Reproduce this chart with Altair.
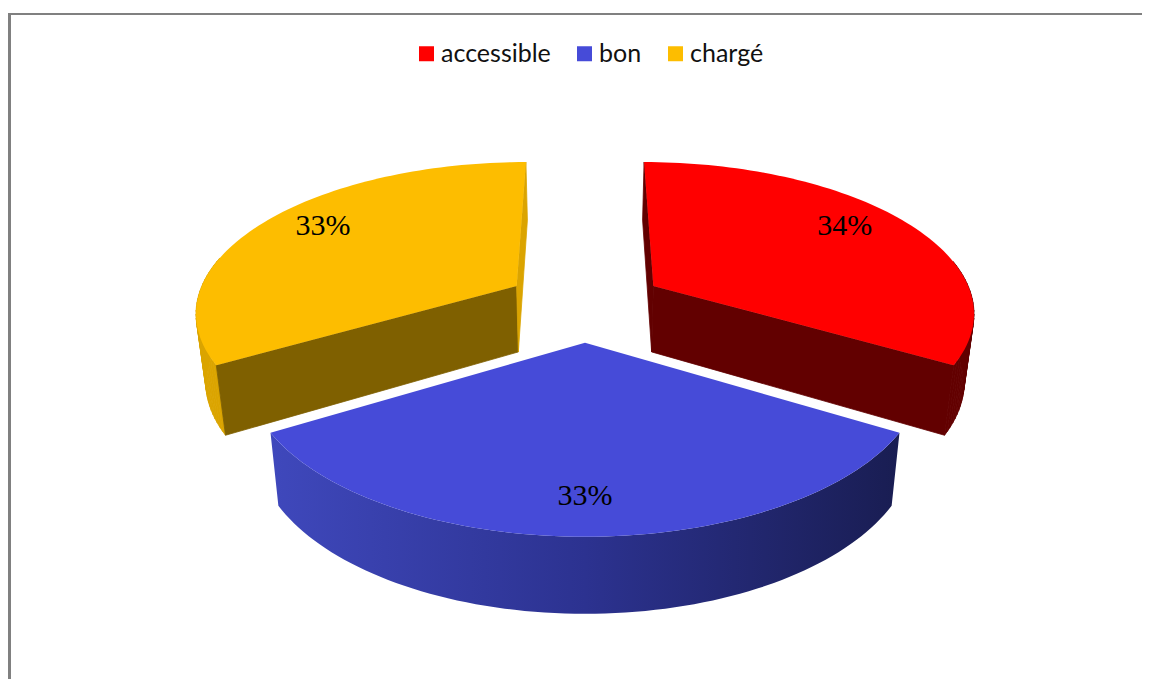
import math
import altair as alt

categories = ["accessible", "bon", "chargé"]
shares = [33.5, 33.0, 33.5]
labels = ["34%", "33%", "33%"]
top_colors = ["#ff0000", "#464bd8", "#fdbd00"]
cut_long = ["#620000", None, "#7f6000"]
cut_short = ["#620000", None, "#dba400"]
wall_colors = ["#620000", None, "#dba400"]
label_reach = [0.80, 0.82, 0.81]
label_turn = [-4, 0, 4]

PAGE = 8
CX, CY, R, TILT, PERSP, EXPLODE = 585, 304, 321, 149, 0.16, 0.25


def top_point(X, Y):
    s = 1 / (1 - PERSP * Y)
    return [CX + R * X * s - PAGE, CY + TILT * Y * s - PAGE]


def low_point(X, Y):
    x, y = top_point(X, Y)
    return [CX - PAGE + (x - CX + PAGE) * 0.975, y + 67 + 8 * Y]


def feature(ring, **props):
    return {"type": "Feature", "properties": props,
            "geometry": {"type": "Polygon", "coordinates": [ring + [ring[0]]]}}


tops, back_faces, front_wall, label_rows = [], [], [], []
start = 0.0
total = sum(shares)
for i, name in enumerate(categories):
    sweep = 360 * shares[i] / total
    mid = math.radians(start + sweep / 2)
    ox, oy = EXPLODE * math.sin(mid), -EXPLODE * math.cos(mid)
    angles = [math.radians(start + sweep * k / 80) for k in range(81)]
    arc = [(ox + math.sin(t), oy - math.cos(t)) for t in angles]
    apex = (ox, oy)
    top_arc = [top_point(*p) for p in arc]
    low_arc = [low_point(*p) for p in arc]
    if wall_colors[i]:
        for k in range(80):
            if math.cos(angles[k]) > 0.2:
                continue
            quad = [top_arc[k], top_arc[k + 1], low_arc[k + 1], low_arc[k]]
            back_faces.append(feature(quad, shade=wall_colors[i]))
        first_is_long = name == "chargé"
        for end, long_face in ((0, first_is_long), (-1, not first_is_long)):
            col = cut_long[i] if long_face else cut_short[i]
            ring = [top_point(*apex), top_arc[end], low_arc[end], low_point(*apex)]
            back_faces.append(feature(ring, shade=col))
    else:
        front_wall.append(feature(top_arc + low_arc[::-1], shade="gradient"))
    tops.append(feature([top_point(*apex)] + top_arc, name=name))
    a = mid + math.radians(label_turn[i])
    lx, ly = top_point(ox + label_reach[i] * math.sin(a), oy - label_reach[i] * math.cos(a))
    label_rows.append({"lon": lx, "lat": ly, "label": labels[i]})
    start += sweep

identity = dict(type="identity", scale=1, translate=[0, 0])

faces = alt.Chart(alt.Data(values=back_faces)).mark_geoshape(strokeWidth=0.8).encode(
    color=alt.Color("properties.shade:N", scale=None),
    stroke=alt.Stroke("properties.shade:N", scale=None),
).project(**identity)

blue_wall = alt.Chart(alt.Data(values=front_wall)).mark_geoshape(
    strokeWidth=0,
    fill=alt.LinearGradient(
        gradient="linear", x1=0, x2=1, y1=0, y2=0,
        stops=[alt.GradientStop(color="#3f48bc", offset=0),
               alt.GradientStop(color="#2c3290", offset=0.5),
               alt.GradientStop(color="#191d52", offset=1)],
    ),
).project(**identity)

top_faces = alt.Chart(alt.Data(values=tops)).mark_geoshape(strokeWidth=0).encode(
    color=alt.Color(
        "properties.name:N",
        scale=alt.Scale(domain=categories, range=top_colors),
        legend=alt.Legend(
            title=None, orient="none", direction="horizontal", columns=3,
            legendX=406, legendY=33, symbolType="square", symbolSize=225,
            symbolStrokeWidth=0, labelFont="Lato", labelFontSize=25,
            labelColor="#111111", columnPadding=21, labelOffset=2, labelLimit=300,
        ),
    )
).project(**identity)

text = alt.Chart(alt.Data(values=label_rows)).mark_text(
    font="Liberation Serif", fontSize=30, color="black", baseline="middle"
).encode(longitude="lon:Q", latitude="lat:Q", text="label:N").project(**identity)

anchor = alt.Data(values=[{"k": 1}])
frame_top = alt.Chart(anchor).mark_rule(color="#808080", strokeWidth=2).encode(
    x=alt.value(0), x2=alt.value(1134), y=alt.value(6))
frame_left = alt.Chart(anchor).mark_rule(color="#808080", strokeWidth=3).encode(
    x=alt.value(1.5), y=alt.value(5), y2=alt.value(671))

chart = alt.layer(frame_top, frame_left, faces, blue_wall, top_faces, text).properties(
    width=1134, height=671, padding=0, background="white",
    autosize=alt.AutoSizeParams(type="none"),
).configure_view(stroke=None)

chart.save("out.html", embed_options={"renderer": "svg", "actions": False})
